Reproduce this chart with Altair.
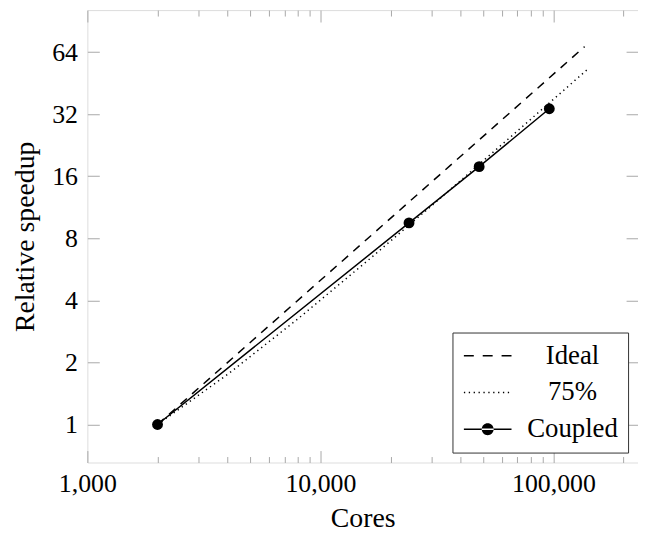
import altair as alt
import pandas as pd

# ---- data ----
ideal_cores = [2000, 136000]
ideal_speedup = [1.0, 68.0]
eff75_cores = [2000, 4000, 8000, 16000, 32000, 64000, 142000]
eff75_speedup = [1.0, 1.75, 3.25, 6.25, 12.25, 24.25, 53.5]
coupled_cores = [2000, 24000, 48000, 96000]
coupled_speedup = [1.0, 9.5, 17.8, 34.0]

series_names = ["Ideal", "75%", "Coupled"]
x_major = [1000, 10000, 100000]
x_minor = [2000, 3000, 4000, 5000, 6000, 7000, 8000, 9000,
           20000, 30000, 40000, 50000, 60000, 70000, 80000, 90000, 200000]
y_ticks = [1, 2, 4, 8, 16, 32, 64]

FONT = "Liberation Serif"
TICK = "#a8a8a8"
LW = 1.5

df = pd.concat([
    pd.DataFrame({"cores": ideal_cores, "speedup": ideal_speedup, "series": "Ideal"}),
    pd.DataFrame({"cores": eff75_cores, "speedup": eff75_speedup, "series": "75%"}),
    pd.DataFrame({"cores": coupled_cores, "speedup": coupled_speedup, "series": "Coupled"}),
], ignore_index=True)

xscale = alt.Scale(type="log", domain=[1000, 230600], nice=False)
yscale = alt.Scale(type="log", base=2, domain=[0.654, 102.3], nice=False)


# legend glyphs drawn as filled paths (unit = 12 px, symbol spans x -1..3)
def rect(x0, x1, h=0.0625):
    return f"M{x0:.3f},{-h}L{x1:.3f},{-h}L{x1:.3f},{h}L{x0:.3f},{h}Z"


SOLID_PATH = rect(-1, 3)
DASH_PATH = "".join(rect(s, s + 0.833) for s in (-1.0, 0.583, 2.167))
DOTS_PATH = "".join(rect(-1 + 0.41 * i, -1 + 0.41 * i + 0.11) for i in range(10))
DOT_PATH = SOLID_PATH + "M0.5,0A0.5,0.5,0,1,0,1.5,0A0.5,0.5,0,1,0,0.5,0Z"

legend = alt.Legend(
    orient="bottom-right", offset=10, title=None,
    labelFont=FONT, labelFontSize=27, labelColor="black",
    labelAlign="center", labelOffset=84, labelLimit=0,
    symbolSize=576, symbolStrokeWidth=0, symbolFillColor="black", symbolOpacity=1,
    strokeColor="#333333", fillColor="white", padding=10, rowPadding=9,
)

shape_scale = alt.Scale(domain=series_names, range=[DASH_PATH, DOTS_PATH, DOT_PATH])


def xaxis(orient, values, size, labels=False, title=None):
    kw = dict(orient=orient, values=values, tickSize=size, offset=-size,
              domain=False, grid=False, tickColor=TICK, tickWidth=1,
              labels=labels, title=title)
    if labels:
        kw.update(format=",d", labelFont=FONT, labelFontSize=26, labelColor="black",
                  labelPadding=8, labelFlush=False, labelOverlap=False)
    if title:
        kw.update(titleFont=FONT, titleFontSize=28, titleFontWeight="normal",
                  titleColor="black", titlePadding=9)
    return alt.Axis(**kw)


def yaxis(orient, labels=False, title=None):
    kw = dict(orient=orient, values=y_ticks, tickSize=12, offset=-12,
              domain=False, grid=False, tickColor=TICK, tickWidth=1,
              labels=labels, title=title)
    if labels:
        kw.update(format="d", labelFont=FONT, labelFontSize=26, labelColor="black",
                  labelPadding=10, labelFlush=False, labelOverlap=False)
    if title:
        kw.update(titleFont=FONT, titleFontSize=28, titleFontWeight="normal",
                  titleColor="black", titlePadding=12)
    return alt.Axis(**kw)


base = alt.Chart(df)

ideal = base.transform_filter(alt.datum.series == "Ideal").mark_line(
    color="black", strokeWidth=LW, strokeDash=[8.5, 7], clip=True
).encode(
    x=alt.X("cores:Q", scale=xscale, axis=xaxis("bottom", x_major, 12, True, "Cores")),
    y=alt.Y("speedup:Q", scale=yscale, axis=yaxis("left", True, "Relative speedup")),
)

eff75 = base.transform_filter(alt.datum.series == "75%").mark_line(
    color="black", strokeWidth=LW, strokeDash=[1.3, 3.7], clip=True
).encode(
    x=alt.X("cores:Q", scale=xscale, axis=xaxis("bottom", x_minor, 6)),
    y=alt.Y("speedup:Q", scale=yscale, axis=yaxis("right")),
)

coupled_line = base.transform_filter(alt.datum.series == "Coupled").mark_line(
    color="black", strokeWidth=LW, clip=True
).encode(
    x=alt.X("cores:Q", scale=xscale, axis=xaxis("top", x_major, 12)),
    y=alt.Y("speedup:Q", scale=yscale, axis=None),
)

coupled_pts = base.transform_filter(alt.datum.series == "Coupled").mark_point(
    filled=True, color="black", opacity=1, size=120, shape="circle"
).encode(
    x=alt.X("cores:Q", scale=xscale, axis=xaxis("top", x_minor, 6)),
    y=alt.Y("speedup:Q", scale=yscale, axis=None),
)

# invisible layer that carries the legend symbols (line + marker)
legend_carrier = base.transform_filter(alt.datum.series == "Coupled").mark_point(
    filled=True, color="black", opacity=0, size=576
).encode(
    x=alt.X("cores:Q", scale=xscale, axis=None),
    y=alt.Y("speedup:Q", scale=yscale, axis=None),
    shape=alt.Shape("series:N", scale=shape_scale, legend=legend),
)

chart = alt.layer(ideal, eff75, coupled_line, coupled_pts, legend_carrier).resolve_axis(
    x="independent", y="independent"
).properties(
    width=555, height=456,
    autosize=alt.AutoSizeParams(type="none"),
    padding={"left": 80, "top": 0, "right": 0, "bottom": 74},
).configure_view(
    stroke="black", strokeWidth=1.2
).configure(background="white")

chart.save("out.html", embed_options={"renderer": "svg", "actions": False})
